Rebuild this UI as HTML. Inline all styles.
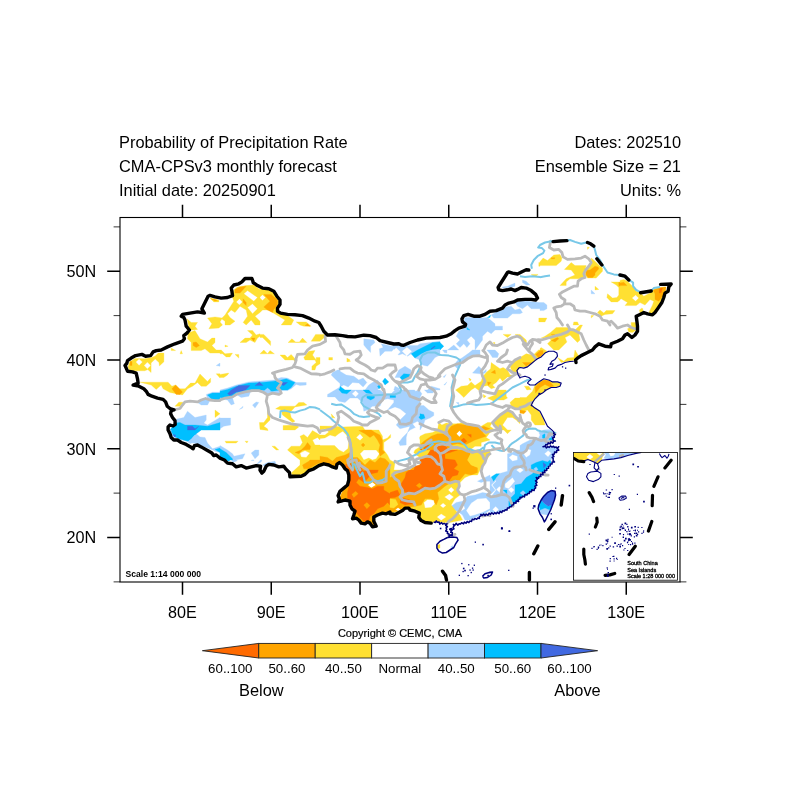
<!DOCTYPE html>
<html><head><meta charset="utf-8"><title>Probability of Precipitation Rate</title>
<style>
html,body{margin:0;padding:0;background:#fff;}
body{width:800px;height:800px;overflow:hidden;font-family:"Liberation Sans",sans-serif;}
svg{display:block}
text{font-family:"Liberation Sans",sans-serif;fill:#000}
.t{font-size:16.4px}
.ax{font-size:16.2px}
.cb{font-size:13.3px}
</style></head><body>
<svg width="800" height="800" viewBox="0 0 800 800">
<rect width="800" height="800" fill="#fff"/>
<text class="t" x="119" y="148.4">Probability of Precipitation Rate</text>
<text class="t" x="119" y="172.2">CMA-CPSv3 monthly forecast</text>
<text class="t" x="119" y="195.8">Initial date: 20250901</text>
<text class="t" x="681" y="148.4" text-anchor="end">Dates: 202510</text>
<text class="t" x="681" y="172.2" text-anchor="end">Ensemble Size = 21</text>
<text class="t" x="681" y="195.8" text-anchor="end">Units: %</text>
<defs><clipPath id="mc"><rect x="120" y="217.5" width="560" height="364.5"/></clipPath></defs>
<g clip-path="url(#mc)">
<path d="M220 363.1L216.2 365.6L220 366.2ZM332.5 372.5L331.2 375L336.2 380L340 383.4L340 386.9L343.8 385L348.1 386.9L352.5 382.5L358.8 383.1L363.1 386.9L366.9 382.5L363.1 378.1L358.8 380L353.8 376.2L346.2 375L340 371.2L340 370L337.5 370ZM251.2 390L261.2 390.6L267.5 393.8L278.8 393.8L280 390.6L287.5 390.6L291.2 388.8L296.2 384.4L300 385.6L306.2 385L306.2 382.5L296.2 382.5L287.5 378.1L281.2 377.5L273.8 380L248.8 381.9L236.2 385L227.5 388.1L220 390L220 392.2L212.5 392.2L206.2 394.4L207.5 398.8L212.5 401L220 400.6L220 398.8L227.5 400L231.2 405L234.4 403.8L232.5 398.1L236.2 394.4L241.2 397.5L248.8 396.2ZM210 400.6L206.2 398.8L201.2 400L197.5 402.5L201.2 405L207.5 405ZM255 408.1L258.8 402.5L256.2 401.9L252.5 405ZM239.4 409.4L242.5 408.1L243.1 406.2ZM220 418.1L220 417.5L207.5 425L203.8 423.1L206.2 420L206.2 415L195 417.5L187.5 411.2L183.8 417.5L176.9 419L175 422.5L175 430L170.5 430L170 431.2L172.5 436.2L178.8 438.8L190 442.5L197.5 443.8L214.5 450.7L215 451.2L220 452.5L220 458.5L223.6 460L231.7 460L232.5 462.5L236.2 461.2L237.5 460L236.2 460L236.1 459.8L242.5 458.8L245 453.8L234 456.2L232.5 453.8L227.5 450L220 445.6L220 446.2L212.5 448.8L207.5 443.1L205 437.5L200 436.9L196.2 433.8L201.2 430L220 430L220 428.8L223.8 426.2L230.6 425L230.6 418.1ZM255 450L251.2 453.1L255 458.8L258.8 455L258.8 450ZM252.2 460L251.2 460.6L253.8 460.6L254.1 460ZM260.6 460L256.2 464.4L261.2 461.9L261.9 460ZM270 463.8L276.2 464.4L275 461.2L267.5 462.5L262.5 465L265 466.2ZM366.9 348.8L370.6 352.5L370.6 346.2L375 342.5L373.8 340L363.8 338.8L363.8 345ZM447.5 350L458.8 350L453.8 345ZM396.2 347.5L400.6 351.9L398.1 354.4L398.8 355L402.5 353.8L406.2 355.6L401.9 351.2L406.9 346.9L411.9 351.2L407.1 356L407.5 356.2L411.2 353.8L415 358.1L420 360L422.5 365L427.5 366.2L431.2 362.5L435 357.5L440 355L440 341.2L420 343.8L417.5 345.6L392.5 345.6L392.9 346.4L381.2 343.8L383.1 347.5L379.4 348.8L380 356.2L385 351.2L391.9 351.2L393.9 348.8L394.2 349.5ZM444.4 352.5L446.9 353.1L446.9 350L442.5 350ZM400 377.5L405 380L411.2 375L411.2 370L405 366.2L398.8 370L395 377.5ZM443.1 376.9L444.4 377.5L446.2 374.4ZM443.8 385L445 385L446.9 381.9ZM365 390L340 390L340 387.1L327.5 394.4L327.5 396.9L335 396.9L338.8 401.2L345 402.5L350 398.1L357.5 398.1L362.5 402.5L363.8 411.2L367.5 410L372.5 406.2L380 406.2L382.5 400L387.5 398.8L393.8 400L393.8 402.5L387.5 410L395 406.9L400 408.8L406.2 413.8L400 420L396.2 425L400 428.8L410 426.2L407.5 432.5L410 430L415 427.5L415.4 427.6L412.5 423.8L417.5 421.2L420 423.8L420 425L423.8 423.8L425 420L430 418.1L433.8 415.6L433.8 412.5L428.8 410L423.8 405.6L420 405.6L420 397.5L421.9 393.8L420 391.2L420 390L415 391.2L414.7 390L398.8 390L400 388.8L395 386.2L393.8 390L395 390L391.2 393.8L385 393.8L380 390L377.5 390L381.2 385L377.5 380L372.5 382.5L368.8 385ZM358.8 393.8L355.6 396.9L351.9 393.8L355.6 390.6ZM436.2 390L440 390L440 388.8L431.2 386.2L427.5 390L424.4 390L427.5 393.1L432.5 393.1ZM422.5 426.2L420 425L420 430ZM406.2 437.5L407.5 432.5L402.5 437.5L398.8 442.5L400 445.6L406.2 445ZM450.6 546.9L452.5 548.1L453.1 545.6ZM530 285L526.2 281.2L522.5 280L522.5 282.5L526.2 285ZM511.2 287.5L515 286.2L515 283.1L507.5 286.2L502.5 286.9L502.5 288.1ZM595 293.8L591.2 290L591.2 293.8ZM540 308.8L540 310.5L543.8 310.6L546.9 308.8L546.9 305L543.8 302.5L540 302.5L527.5 301.2L520 301.2L515 302.5L517.5 306.2L522.5 308.8L527.5 305L531.2 308.8ZM511.2 306.2L506.2 306.9L502.5 310L496.2 311.9L491.2 315L493.8 318.1L507.5 318.1L512.5 313.8L520 313.8L522.5 312.5L520 308.8L515 310ZM502.5 326.2L495 326.2L495 323.8L487.5 317.5L481.2 318.1L473.8 317.5L465 317.5L463.8 321.9L466.9 325L465 327.5L458.8 331.2L456.2 336.2L460 340L456.2 343.8L460 347.5L463.8 343.8L466.9 347.5L470 343.8L466.9 340L471.2 336.2L475 340L475 350L482.5 340L482.5 336.2L487.5 331.2L491.2 333.8L495 330L502.5 330ZM497.5 357.5L498.8 353.8L495 350L486.9 350L490 353.8L492.5 357.5ZM468.8 353.1L462.5 357.5L457.5 360.6L453.8 365L457.5 368.8L462.5 362.5L467.5 358.8L473.8 356.2L480 355L480 350L475 350L472.5 350ZM480 373.8L482.5 370L478.8 366.2L472.5 373.1ZM483.8 373.8L486.2 371.9L486.2 369.4L482.5 372.5ZM458.8 402.5L456.2 402.5L458.8 405ZM530 440L522.5 443.8L520 445.6L520 450L515 450L512.5 452.5L507.5 453.8L507.5 471.2L498.8 473.8L492.5 477.5L496.2 481.2L492.5 485L496.2 490L492.5 495L490 496.9L490 495L495 490L491.2 485L495 481.2L491.2 477.5L490 476.9L490 475L477.5 481.2L481.2 482.5L485 481.2L490 481.2L490 493.8L482.5 492.5L475 495L467.5 496.2L462.5 501.2L456.2 502.5L451.2 506.2L452.5 510L457.5 511.2L462.5 515L465 520L470 520L477.5 516.2L485 513.8L490 510L490 513.8L496.2 513.1L507.5 508.8L518.2 500.7L520.2 497.7L524.1 496.3L535 488.8L536.2 481.2L536.5 480.8L536.5 478.9L539.2 477.2L548.1 465L553.1 456.6L554 453.9L555.6 452.9L557.5 450L555.6 447.5L552.6 446L547.5 447.2L544.4 446.2L547.6 444L551.9 442.6L550 440L552.1 440L553.8 435L552.5 432.5L550 429.4L543.8 430L538.8 432.5L540 435L537.5 440ZM466.2 510.6L471.2 503.1L477.5 498.8L486.2 498.1L490 502.5L490 508.8L482.5 512.5L475 515L470 516.2ZM527.5 448.8L531.2 450L530 455L526.2 457.5L522.5 452.5ZM551.2 453.1L548.1 456.9L544.4 453.8L548.1 450.6ZM512.5 454.4L517.5 456.2L517.5 460L512.5 461.2L508.8 457.5ZM523.8 470L520 473.1L516.2 470L520 467.5ZM512.5 477.5L515 481.2L508.8 488.8L505 487.5L505 483.8ZM502.5 489.4L499.4 492.5L496.2 489.4L499.4 486.2ZM514.4 490L511.2 493.1L508.1 489.4L511.2 486.9ZM495.6 506.2L498.8 509.4L495.6 512.5L492.5 509.4ZM463.8 505L465 508.8L461.2 511.2L460 507.5ZM550 510L545 508.1L540 510L538.1 508.8L540 513.8L547.5 515Z" fill="#a6d2ff" fill-rule="evenodd" stroke="#a6d2ff" stroke-width="0.3"/>
<path d="M385 378.1L382.5 381.2L385 385L388.8 381.9ZM377.5 386.2L378.8 388.8L381.2 387.5L380 384.4ZM341.9 393.1L346.9 393.8L351.2 390L345 390L340 386.2L340 388.3L338.8 389.4ZM272.5 391.2L280 390L287.5 390L291.2 387.5L295 382.5L286.2 378.8L281.2 380L273.8 381.2L261.2 382.5L248.8 383.1L236.2 386.2L227.5 389.4L220 391.2L220 393.1L212.5 393.1L207.5 395L212.5 400L220 400L220 397.5L227.5 398.8L232.5 397.5L236.2 393.8L243.8 392.5L251.2 389.4L261.2 390ZM363.1 390L366.2 393.1L372.5 393.8L368.8 390ZM390 395L390 397.5L395.6 397.5L395.6 395.6ZM374.4 398.1L374.4 395.6L366.9 395.6L366.9 398.1L370.6 400ZM175 423.1L174.9 424.2L173.3 425.5L170 430L171.9 430L171.2 431.2L173.8 436.2L178.8 438.8L188.1 441.2L192.5 437.5L196.2 433.8L201.2 430L220 430L220 422.5L207.5 426.2L195 425L185 425L180 422.5ZM230 460L232.5 460L232.5 458.8L226.2 452.5L220 448.8L220 448.1L215 449.4L220 452.5L220 458.5L223.6 460L225.4 460L228.8 461.2ZM487.5 317.5L490 317.5L490.6 315ZM466.9 329.4L470 330L466.9 327.5ZM432.5 342.5L417.5 350L411.2 353.8L415 358.1L421.2 353.8L426.2 351.2L432.5 349.4L440 348.8L440 350L443.8 346.2L440 342.5L440 341.9ZM411.2 374.4L403.8 373.8L400 377.5L402.5 380.6L407.5 380ZM420 418.8L421.2 419.4L425 418.1L423.8 414.4L420 413.8L420 416.2L418.8 416.9ZM545 433.8L542.5 435L542.5 438.1L545 438.8ZM553.8 440L553.5 439.3L552.9 438.7L553.1 438.4L552.5 436.9L548.8 438.8L549.4 440L550 440L553.8 441.9L554.7 440.5L554.2 440ZM499.4 473.8L496.2 473.8L491.2 476.9L493.8 481.2L496.2 477.5ZM511.2 497.5L508.8 501.2L508.8 507.5L512.5 505L518.2 500.7L520.2 497.7L524.1 496.3L535 488.8L536.2 481.2L536.5 480.8L536.5 478.9L538.4 477.7L540 475L545 470L551.2 462.5L550 460L547.5 461.9L542.5 460.6L536.2 462.5L531.2 465L531.2 468.8L535 470L532.5 473.8L526.2 477.5L521.2 483.8L515 485L515 493.8ZM506.9 490L503.1 490L506.9 493.8ZM538.8 505L540 510L545 508.1L550 510L551.9 505L548.1 506.2L543.8 503.1L541.2 500Z" fill="#00bfff" fill-rule="evenodd" stroke="#00bfff" stroke-width="0.3"/>
<path d="M435.2 346.5L434.8 346L431 348.8L431.5 349.2ZM255 385.6L263.1 385.6L259.4 381.9ZM287.5 382.5L282.5 382.5L280 384.4L283.8 385.6ZM231.2 390L227.5 393.8L230 395.6L236.2 391.9L245 390.6L250 385.6L238.8 385.6ZM187.5 426.2L187.5 430L195 430L198.8 426.2L195 428.8L192.5 426.2ZM173.1 434.4L175 437.5L175.6 435ZM553.1 438.9L552.9 438.7L554.1 436.8L551.2 436.2L552.5 438.8ZM543.8 468.1L546.2 465L543.1 462.5ZM554.4 500L555.6 495L555 491.2L551.2 490.6L547.5 492.5L543.8 496.2L541.2 500L543.8 503.1L548.1 506.2L551.9 505Z" fill="#4169e1" fill-rule="evenodd" stroke="#4169e1" stroke-width="0.3"/>
<path d="M264.4 390.6L267.5 393.1L270.6 390.6L267.5 388.1ZM192.5 437.5L195 440L197.5 437.5L195 435ZM190 440L188.1 441.9L190 443.8L192.5 442.5ZM535.6 471.2L538.1 469.4L536.2 466.9L533.8 468.8ZM523.1 495.6L525.6 493.1L523.1 490.6L520 493.1Z" fill="#a6d2ff" fill-rule="evenodd" stroke="#a6d2ff" stroke-width="0.3"/>
<path d="M213.8 301.9L218.8 301.9L218.8 300L210 298.1ZM208.8 328.8L218.8 328.1L222.5 325L220 321.9L221.8 319.1L225 321.2L225 325L230 325L235 321.2L230 317.5L227.5 313.8L231.2 310L235 312.5L240 306.2L246.2 310L247.5 316.2L243.1 322.5L246.2 325L251.2 320L255 325L260 325L260 321.2L255 316.2L260 312.5L262.5 310L268.8 310L272.5 312.5L285 320L281.2 325L291.2 325L293.8 320L287.5 315.6L278.1 312.5L276.9 308.8L279.4 305L279.4 301.2L276.9 297.5L275 293.8L268.8 290L262.5 289.4L260 288.1L260 289.4L253.8 285L246.2 285.6L237.5 286.9L233.8 290L232.5 297.5L233.8 301.2L225 315L222 318L215 316.9L207.5 318.1L211.9 323.8ZM260 296.9L262.5 294.8L265.6 297.5L262.5 300.6L260 298.1ZM253.8 301.2L243.8 293.8L247.5 290.6L257.5 297.5ZM239.4 305L236.2 301.9L239.4 298.8L242.5 301.9ZM252.5 313.8L247.5 307.5L252.5 303.8L257.5 308.8ZM195 326.2L197.5 322.5L191.2 322.5L186.9 318.8L189.6 330L192.5 330L197.5 329.4ZM260 336.2L260 337.5L262.5 337.5L270.6 345.6L270.6 341.2L263.8 334.4L260 334.4L260 333.8L256.2 335L252.5 330.6L247.5 330.6L252.5 335L250 338.1L245 338.1L240 342.5L246.2 342.5L250 340L255 342.5L257.5 338.1ZM222.5 353.8L226.2 356.9L230 356.9L232.5 353.1L225 353.8L221.2 350L216.2 350L211.9 345.6L215 342.5L215 338.1L211.9 338.1L207.5 341.9L200 338.8L195 330.6L188.1 333.1L187.5 338.8L191.2 342.5L191.2 350.6L201.2 350.6L205 348.8L210 353.1L220 353.1L220 353.8ZM225 346.9L228.1 346.2L225 345ZM171.2 350.6L175.6 350.6L171.2 348.1ZM260 353.8L267.5 353.8L263.8 350ZM181.2 350.6L180 353.8L182.5 353.8ZM270 350.6L267.5 353.8L274.4 353.8ZM238.8 358.1L238.8 354.4L235 354.4ZM293.8 360L295 361.9L296.9 360L295 360L295 358.8L291.2 354.4L287.5 357.5L285 355L280 355L285 360ZM163.9 361.8L163.9 353.1L158.2 353.1L155.2 356.1L151.5 357.6L144.8 358.8L135 358.4L129.8 361.8L127.9 367L129.8 370.8L144.8 370.8L147.8 369.6L151.1 372.6L151.1 362.9L155.2 359.1L159 362.5L159.4 365.9ZM135.8 362.1L139.1 358.8L142.5 362.1L139.1 365.5ZM144 365.5L147.4 362.1L150.8 365.5L147.4 368.9ZM220 377.5L223.8 377.5L227.5 375L228.8 373.1L220 374.4L220 373.8L216.2 373.8L220 378.1ZM201.2 386.2L206.2 386.2L210.6 382.2L210.6 378.1L207.5 381.5L200 374L195 383.1L190.6 383.1L185 388.8L179.4 388.8L175.6 385L171.9 386.2L168.1 382.2L140 382.2L151.2 385L156.2 389.4L161.2 385L163.1 388.8L170 392.5L182.5 395L187.5 388.8L192.5 386.2L197.5 382.5ZM180 406.2L183.1 402.2L178.8 402.2L175 406.2ZM306.9 405L303.8 402.5L298.8 402.5L295 406.2L280 406.2L275.6 408.8L281.2 410L282.5 415L292.5 422.5L295 421.2L291.2 417.5L290 412.5L295 406.9ZM215 410L215 417.5L220 413.8ZM263.8 422.5L259.4 422.5L260 429.4L268.1 430.6L267.5 428.8L263.8 426.2L270 420L270 413.8L267.5 410L267.5 417.5ZM283.1 425.6L283.1 430L295 430L298.8 426.9L296.2 425ZM245 441.2L246.9 443.1L248.1 441.2ZM226.2 443.1L236.2 443.1L238.1 441.2L225 441.2ZM276.2 450L278.8 450L275 446.2L271.9 446.2ZM296.2 321.9L300 325L303.8 326.2L311.2 326.2L306.2 321.9ZM503.1 334.4L507.5 337.5L511.2 334.4ZM325 334.4L315.6 334.4L311.2 341.2L320 341.2L323.8 338.1ZM299.4 341.9L295.6 341.9L291.9 338.8L288.1 342.5L306.9 342.5L302.5 338.1ZM495 342.5L493.1 342.5L494.4 344.4ZM311.9 366.2L311.9 370L315 370L316.2 366.2L320 363.8L320 357.5L316.2 357.5L316.2 360L312.5 355L315 350.6L308.8 351.2L303.8 357.5L305 360L315 360L316.2 362.5ZM328.8 360L332.5 360L332.5 357.5L328.8 357.5ZM349.1 360L350 360L346.9 358.1L346.9 361.9L350.6 361.2ZM470 381.2L471.2 379.4L468.8 378.1ZM475 385.6L471.2 381.9L467.5 385.6L461.2 386.2L455.6 390L460 393.8L463.8 397.5L471.2 390L475 387.5L480 391.2L483.8 386.2L487.5 385.6L491.2 388.8L495 387.5L492.5 385L496.2 382.5L500 378.1L502.5 381.2L507.5 376.9L512.5 376.9L514.8 375L510 375L507.5 370L503.1 367.5L500 368.8L491.2 362.5L490.6 368.8L486.2 372.5L482.5 376.9L481.2 381.2ZM487.5 398.1L493.8 401.2L497.5 400L503.8 400L507.5 398.1L506.2 396.2L506.2 390L497.5 390L495 395ZM483.1 394.4L483.8 398.1L486.2 396.2ZM331.9 417.5L335 418.1L331.2 413.8ZM502.5 425L507.5 417.5L512.5 417.5L516.2 420L520 423.8L520 420L516.2 417.5L512.5 412.5L507.5 410L500 415L492.5 422.5L495 426.2L500 430L503.8 430L507.5 433.8L511.2 430L507.5 430ZM418.8 447.5L415 450L413.8 452.5L416.2 455L420 457.5L420 470L393.8 470L395 462.5L390 460L387.5 455L383.8 450L383.8 442.5L390.6 437.5L390.6 434.4L387.5 438.1L382.5 440L382.5 436.2L378.8 430L365 430L362.5 426.2L342.5 426.9L335 426.2L320 426L320 430L325 428.8L328.8 431.9L325 435L320 435L312.5 430.6L307.5 437.5L303.8 434.4L300 436.2L302.5 442.5L300 446.2L291.2 446.2L287.5 450L295 456.2L300 460L300 465L291.2 473.1L292.5 475L300 475L300 474.6L305 473.8L307.4 472.4L308.9 470.9L312.3 469.6L320 465.2L320 465.5L323.8 464.1L328.6 465.3L332.4 467.2L336.2 468.4L336.5 468.2L337.2 464.5L339.4 462.9L342.3 465.2L344.8 468.9L346.2 470L346.5 470L347.2 470.8L348.4 475L348.4 476.5L348.8 477.5L348.4 478.2L348.4 480L347.2 484.8L344.4 487.2L337.8 502L338.2 502.2L341.3 501.5L345 500.3L349.7 501.5L349.7 505.1L351.6 508.9L354.6 511.4L352.2 518.9L352.5 519L356.2 518.4L358.5 520.2L361.1 523.4L365 524L367.5 522.2L369.8 523.4L372.2 526.9L375.7 524.5L374.1 521.2L374.1 517.1L377.6 515.3L382.5 513.4L386.3 514L389.7 512.4L389.7 513.8L390 514.1L390 513.8L404 509.6L405.1 508.4L407.7 508.4L408.8 508.1L418.8 512.5L419 513.3L419.9 519.4L420.4 520.1L433.8 522.5L434.4 522.5L436.2 521.6L438.1 522.5L450 522.5L462.5 520L460 515L455 510L451.2 505L455 498.8L460 495L457.5 490L460 482.5L465 477.5L471.2 475L477.5 475L482.5 465L490 455L490 450L470 450L475 446.2L481.2 446.2L481.2 442.5L490 440L486.2 437.5L490 432.5L495 430L490 426.2L492.5 422.5L487.5 422.5L481.2 426.2L472.5 425L470 423.8L462.5 422.5L457.5 423.8L451.2 423.8L446.2 423.1L441.9 425L438.8 422.5L437.5 430L432.5 432.5L425 433.8L420 436.2L420 437.5L419.4 437.5L420 440L420 447.5ZM420 450L420.6 450L420 452.5ZM459.4 430.6L462.5 433.8L459.4 436.9L456.2 433.8ZM324.8 438L330 435L335.2 436.5L339 433.5L342.8 431.2L346.5 435L348.8 442.5L348 448.5L343.5 452.2L339 450L334.5 445.5L320 445.5L320 445L315 445L312.5 440L317.5 437.5L320 440L320 438.5ZM306.2 457.5L301.2 456.9L300 453.1L305 450.6L310 453.1ZM360 440.6L356.2 437.5L360 433.8L363.1 437.5ZM368.8 458.1L363.8 460L360 453.8L363.8 450L376.2 450L379.4 453.8L376.2 458.8L372.5 460ZM423.8 502.5L427.5 499.4L433.8 500L435 503.8L431.2 507.5L425 508.1ZM443.1 503.1L446.2 505.6L443.1 508.1L440 505.6ZM398.1 507.5L401.2 509.4L398.1 511.2L395 509.4ZM446.2 516.9L441.2 520.6L436.9 516.9L441.2 513.8ZM475 455L478.1 458.1L475 461.2L471.9 458.1ZM451.2 486.9L454.4 490L451.2 493.1L448.1 490ZM453.8 496.9L449.4 500.6L444.4 496.9L449.4 493.8ZM371.2 488.1L367.5 485L372.5 481.9L376.2 485ZM440 548.1L440 544.4L436.9 545L437.5 548.8ZM589.4 247.5L587.5 246.9L587.5 249.4ZM540 261.8L540 262.5L538.8 262.5L538.8 266.2L540 266.2L540 265.6L556.2 265.6L561.2 261.2L561.9 258.1L560 254.4L553.8 255L547.5 260.6L543.1 258.1ZM595 261.2L591.2 258.1L591.2 262.5L585.6 270L585 275L587.5 278.1L596.2 278.1L602.5 271.2L602.5 268.1L600 266.2ZM585 277.5L583.8 273.8L586.2 265.6L575 265.6L571.2 262.5L564.4 269.4L571.2 270L575 275L566.2 278.8L560 285.6L566.2 285.6L566.2 281.9L570 278.8L581.2 278.8ZM538.1 274.4L531.2 274.4L535 276.9ZM598.8 289.4L595 286.2L595 290ZM606.9 297.5L611.2 301.9L617.5 301.9L620 300L620 299.4L621.2 298.8L627.5 302.5L625 305.6L636.2 305.6L637.9 304.2L637.5 303.8L638.1 304.1L640 302.5L645 305L650 299.4L653.8 301.2L652.5 305L648.8 312.5L652.5 315L657.5 308.8L662.5 300L666.2 291.2L665 286.9L655 288.8L650 293.1L643.8 296.2L640 292.5L636.2 291.2L632.5 286.2L627.5 281.2L623.8 279.4L620 280.4L620 281.9L611.2 281.9L616.2 285L618.8 287.5L618.8 295L616.9 297.5L612.5 298.1L607.5 293.8ZM635.6 295L638.8 298.1L635.6 301.2L631.9 298.1ZM641.6 308.2L639.4 310L640 313.1L643.1 311.2L642.7 308.5ZM597.5 312.5L601.2 316.2L605 314.4L612.5 313.8L615 310.6L606.2 310.6L603.8 313.1L600 310ZM593.8 315.6L591.2 315.6L591.2 318.1ZM538.8 321.9L545 321.9L546.9 318.1L538.8 318.1ZM577.5 321.9L573.8 321.9L573.1 325L578.8 325ZM627.5 328.8L628.8 331.9L632.5 332.5L636.2 330L635.6 322.5L631.2 322.5L631.2 326.9ZM547.5 337.5L551.2 340L547.5 343.8L553.8 350L558.8 350L566.9 341.9L565 337.5L570 335L577.5 342.5L580 340L578.8 333.8L580 330L582.5 325L580 325L575 330L570 330L567.5 327.5L556.2 327.5L550.6 332.5L545 336.2L541.2 338.1ZM523.8 342.5L526.9 345L526.2 340L520 334.4L515 334.4L521.2 337.5ZM533.8 354.4L536.2 358.8L541.2 356.9L546.9 351.2L541.2 347.5L540 348.6L540 350L538.5 350ZM563.8 361.2L557.5 357.5L561.2 362.5L572.5 360.6L575.6 359.4L578.8 356.2L575 350L573.8 357.5L567.5 358.1ZM510 366.2L512.5 372.5L516.2 373.8L518 373.2L517.2 370.7L518.9 368.4L520 367.8L520 367.5L527.5 366.9L535.2 360.8L536.2 358.8L532.5 355L526.2 353.8L520 357.5L512.5 363.1ZM514.8 375L515 375L516.2 373.8ZM524.4 386.2L526.9 390L531.2 389.4L528.8 386.2ZM552.5 381.9L543.8 379.4L535 385L532.5 391.2L526.2 397.5L520 397.5L520 398.1L515 398.1L510 402.5L511.2 406.2L516.2 408.8L520 408.8L520 412.5L527.5 410L531.2 415L531.2 420L535 425L545 425L543.8 420L538.8 410.2L531.2 405.6L535 398.8L536.7 397.5L538.9 395.2L541.2 394.1L546.4 390.3L551.2 387.5L560 386.2L560 383.1Z" fill="#ffe032" fill-rule="evenodd" stroke="#ffe032" stroke-width="0.3"/>
<path d="M240 293.1L246.2 286.2L240 286.9L235 289.4L235 293.1ZM217.5 300.2L210.6 298.5L215 301ZM243.1 298.8L243.1 302.5L246.2 305.6L246.2 302.5ZM271.2 294.4L263.8 294.4L270 301.2L263.8 306.9L267.5 310L272.5 312.5L273.8 309.4L277.5 305L277.5 300ZM307.5 323.8L305 325.6L310 326.2ZM255 338.1L251.2 338.1L253.8 341.2ZM199.4 345.6L196.2 341.9L193.1 342.5L193.1 345.6L196.2 347.5ZM130.1 361.4L130.1 365.5L132 365.5L132 361.4ZM182.5 391.9L175.6 385L171.9 388.8L176.2 394.4L180 394.4ZM385 452.5L382.5 450L382.5 440L380 435L375 432.5L371.2 430L363.8 430L358.8 430.6L365 433.8L370 437.5L373.8 435L377.5 440L380 445L378.8 450L380 456.2ZM361.2 445L363.1 446.9L365 445L363.1 443.1ZM295 452.5L298.8 453.8L302.5 450L310 449.4L310.6 446.2L307.5 442.5L305 446.2L301.2 450ZM375 462.5L370 460L365 465L357.5 457.5L352.5 457.5L350 452.5L345 455L336.2 457.5L332.5 461.2L327.5 457.5L320 456.2L320 460L310 460L308.8 461.2L302.5 465L303.8 468.8L308.8 468.8L315 465L320 462.5L320 465.5L323.8 464.1L328.6 465.3L332.4 467.1L336.2 468.4L336.5 468.2L337.2 464.5L339.4 462.9L342.3 465.2L344.8 468.9L346.2 470L346.5 470L347.2 470.8L348.4 475L348.4 476.5L348.8 477.5L348.4 478.2L348.4 480L347.2 484.8L344.4 487.2L337.9 502L338.2 502.2L341.3 501.5L345 500.3L349.7 501.5L349.7 505.1L351.6 508.9L354.6 511.4L352.2 518.7L352.3 519L356.2 518.4L358.5 520.2L361.2 523.4L365 524L367.5 522.2L369.8 523.4L372.2 526.9L375.7 524.5L374.1 521.2L374.1 517.1L377.6 515.3L382.5 513.4L386.3 514L389.7 512.4L389.7 513.8L390 514.1L390 512.5L397.7 511L395 509.4L398.1 507.5L401.2 509.4L399.1 510.7L402.5 510L404.2 509.3L405.1 508.4L406.4 508.4L408.8 507.5L421.2 505L425 498.8L431.2 498.8L432.1 499.8L433.8 500L434.8 503.2L436.2 505L438.8 498.8L437.5 492.5L445 486.2L450 483.1L460 480L465 473.8L471.2 475L477.5 472.5L477.5 467.5L471.2 465L467.5 460L470 455L470 450L448.8 450L451.2 445L457.5 443.8L465 445L475 440L486.2 436.2L482.5 432.5L486.2 430L490 428.8L483.8 426.2L480 427.5L457.5 423.8L451.2 426.2L447.5 431.2L443.8 433.8L437.5 433.8L431.2 436.2L423.8 441.2L420 445L423.8 450L431.6 450L426.2 456.2L420 458L420 465L412.5 467.5L410 470L406.2 470L397.5 473.8L390 477.5L390 470L388.8 462.5L385 458.8L380 457.5ZM372.5 481.9L376.2 485L371.2 488.1L367.5 485ZM456.2 433.8L459.4 430.6L462.5 433.8L459.4 436.9ZM555 257.8L551.2 257.8L551.2 258.8L554.4 258.8ZM598.1 266.9L595 266.2L590 270L585.6 270.6L586.2 275L588.1 277.5L592.5 277.5L595 275L595 273.1L598.8 268.8ZM620 282.5L618.8 282.5L618.8 285.6L620 286.2L620 285.6L626.9 285.6L623.8 282.2L620 282.9ZM653.1 290L655 293.8L655 299.4L658.8 301.2L662.5 296.2L665 291.2L666.2 286.9L660 287.5ZM553.8 336.2L555 334.4L551.2 334.4ZM557.5 337.5L551.2 340.6L555 341.9L558.8 338.8ZM543.1 353.8L543.1 350.6L540 350.6L535.6 354.4L538.8 358.1ZM526.2 366.2L531.2 362.5L522.5 362.5ZM495 370L491.2 372.5L495.6 373.8ZM491.2 382.5L487.5 381.9L488.1 385.6ZM548.8 380.6L543.8 380L538.8 383.1L535 387.5L535.6 393.1L540 387.5L545 384.4L550 386.9L553.8 386.2ZM520 410L520 413.1L523.8 413.8L526.2 411.2Z" fill="#ffaa00" fill-rule="evenodd" stroke="#ffaa00" stroke-width="0.3"/>
<path d="M420 445L420 450L422.5 450ZM350 475L350 481.2L347.5 492.5L347.5 497.5L349.5 501.4L349.7 501.5L352.5 508.8L356.2 512.5L360 517.5L363.8 521.2L368.8 521.2L370 516.2L373.8 513.8L377.5 508.8L383.8 506.2L387.5 502.5L390 505L390 498.1L395 497.5L400 495L397.5 490L390 492.5L390 493.8L383.8 490L383.8 486.2L377.5 486.2L372.5 488.8L367.5 487.5L360 486.2L356.2 482.5L358.8 478.8L363.8 482.5L367.5 478.8L371.2 473.8L377.5 472.5L378.3 470L367.5 470L363.8 471.2L362.5 470L360 465L356.2 462.5L357.5 470L355 470L350 462.5L345 465L345 469.1L346.2 470L349 470ZM409.8 470L406.2 472.5L405 477.5L401.2 483.8L402.5 490L407.5 493.8L415 493.8L425 488.8L432.5 488.8L440 486.2L445 482.5L448.8 481.2L452.5 476.2L457.5 475L458.8 471.2L453.8 468.8L457.5 465L455 460L445 458.8L445 453.8L450 452.5L457.5 450L447.5 450L446.2 445L436.2 446.2L436.2 450L430.5 450L426.2 457.5L420 459.6L420 465L415 466.2L413.8 470ZM400 502.5L405 505L412.5 503.8L410 500L401.2 497.5ZM662.5 288.1L659.4 288.8L659.4 293.1L661.2 292.5ZM471.2 437.5L471.2 434.4L467.5 434.4ZM463.8 438.1L461.2 440L463.8 443.8L466.9 441.2ZM430 446.2L426.2 443.1L423.8 448.8L427.5 450Z" fill="#ff6e00" fill-rule="evenodd" stroke="#ff6e00" stroke-width="0.3"/>
<path d="M419.4 483.1L416.2 485.6L419.4 488.1L421.9 485.6ZM351.9 494.4L353.8 497.5L358.1 493.8L355.6 491.2ZM363.8 505L366.9 508.8L370 505.6L366.9 502.5Z" fill="#ffaa00" fill-rule="evenodd" stroke="#ffaa00" stroke-width="0.3"/>
<path d="M473.8 450L475 451.2L480 450ZM482.5 465L483.8 460L482.5 455L475 452.5L470 455L467.5 460L471.2 465L477.5 467.5ZM390 498.8L390 507.5L393.8 508.1L398.1 504.4L395.6 499.4Z" fill="#ffe032" fill-rule="evenodd" stroke="#ffe032" stroke-width="0.3"/>
<path d="M440 355L435 352.5L427.5 352.5L422.5 355L420 360L421.2 363.8L420 367.5L417.5 372.5L415 376.2L412.5 381.2L407.5 382.5L401.2 382.5L398.8 385L401.2 390M520 276.2L525 276.9L532.5 276.2L540 276.9M539.8 277.3L540 277.2L545 276.2L550 275.4M520 383.8L523.8 381.9L527.5 380L530.6 379.4M280 418.1L280.6 411.2L285 410.6L290 411.9L295 412.5L300 410.6L305 409.4L310 406.9L315 407.5L320 409.4M401.1 389.8L401.2 390L400 392.5L395 394.4L387.5 394.4L380 395L372.5 395.6L366.2 395L362.5 397.5L361.2 402.5L363.8 406.2L368.8 408.8L373.8 411.2L378.8 413.8L381.2 416.9M331.2 403.8L336.2 405L341.2 404.4L346.2 407.5L350 410L353.8 413.8L358.8 416.2L363.8 416.9L370 416.2M320 410L325 413.8L330 417.5L333.8 421.2L338.8 425L343.8 428.8L347.5 433.8L350 440L351.2 447.5L351.9 455L352.5 462.5L353.1 470M393.8 462.5L400 460.6L407.5 458.8L412.5 456.2L417.5 453.8L420 451.2M439.8 354.8L441.2 355L448.8 355.6L456.2 357.5L460 360L460 365L457.2 371.2L453.8 378.8L451.6 387.5L452.1 395L450.9 401.2L450 406.9M451.2 407.5L457.5 406.2L463.8 404.4L470 403.8L476.2 405L483.8 404.4L491.2 403.8L496.2 400L501.2 396.2L506.2 392.5L512.5 387.5L520 383.8M420 448.8L425 445L431.2 442.5L438.8 441.2L446.2 442.5L452.5 441.9L460 441.2L465 445L468.8 450M483.8 450L485 445L488.8 442.5L495 442.5L500 443.8M354.2 463.5L355 465L357.5 471.2L360 476.2L362.5 472.5L363.8 477.5L365 482.5L370 482.5L373.8 480L377.5 481.2L382.5 480L386.2 477.5L386.2 471.2L390 467.5M420 452L425 450L430 446.2L433.5 443.6M468.7 448.7L468.8 448.8L475 451.2L480 450L483.6 447.3M491.4 445.1L495 448.8L500 450.6L500.2 450.6M549.8 432.4L551.2 432.5L556.2 433.1M500 450.6L502.5 450.9L505 450.3L508.1 448.1L510 445.3L512.5 443.1L515.6 441.2L518.1 439.4L520.6 437.5L523.1 435.6L524.1 434.1L525 431.9L526.2 430L528.8 428.8L532.5 428.4L535.6 428.8L537.5 430.3L540.6 431.2L543.8 431.6L547.5 432.2L550 432.5" fill="none" stroke="#78c8e8" stroke-width="2" stroke-linejoin="round"/>
<path d="M174 409.8L180 408.5L182.5 405L185 401.9L190 401.2L197.5 401.9L201.2 400L205.6 398.5L210 400L215 400.6L220 400.6M325 336.2L325.6 341.2L320 344.4L312.5 346.2L307.5 350L305 353.8L297.5 354.4L295.6 360M336.2 336.2L340 342.5L340.6 346.2L343.8 350L345 353.8L350 354.4M349.8 354.3L350 354.4L353.8 351.9L360 351.2L361.2 355L358.8 358.1L356.2 360L360 362.5L365 365L368.8 367.5L371.2 370L375 371.2L377.5 368.1L382.5 368.1L387.5 365L395 365L396.2 370L392.5 372.5L390 375L392.5 378.8L395 381.2L400 382.5L405 380L410 377.5L412.5 372.5L413.8 368.8L417.5 365.6L421.2 367.5L420 372.5L416.2 376.2L420 378.8L425 380L430 380L435 379.4L440 376.2M340 368.8L345 368.1L350 368.1L353.8 371.2L357.5 373.1L363.8 373.8L368.8 377.5L373.8 380L377.5 382.5L381.2 385L383.1 390M395 381.2L400 385L403.8 387.5L405 390M425 380L426.2 383.8L421.2 385L418.8 390M483.8 350L486.2 345L490 341.9L492.5 345L497.5 345.6L502.5 343.1L507.5 340L512.5 337.5L517.5 336.2L521.2 338.1L523.8 342.5L527.5 345L530 341.2L532.5 339.4L536.2 340L540 342.5M550.6 241.2L549.4 247.5L553.8 250L558.8 249.4L561.9 252.5L563.1 256.9L567.5 259.4L575 258.8L581.2 258.1L585 256.2L588.8 258.8L591.2 262.5L588.8 266.2L585.6 270L583.8 273.8L585 277.5L581.2 278.8L578.1 281.2L577.5 286.2L573.8 286.2L568.8 288.8L562.5 291.9L559.4 294.4L561.2 297.5L565 300L564.4 303.8L561.2 306.2L556.2 306.9L553.8 308.1L556.2 312.5L556.9 317.5L560 321.2L562.5 325M564.4 303.8L570 303.8L573.8 306.2L575 310L580 311.2L585 311.2L590 312.5L595 313.8L600 316.2L602.5 320L607.5 321.2L610 325M608.3 322.7L611.2 321.2L615 325L617.5 328.1L622.5 326.2L627.5 325L631.2 327.5L635.6 328.8M588.8 350L586.2 345L583.8 340L581.2 333.8L577.5 331.9L573.8 330L570 329.4L567.5 325M570 329.4L567.5 331.9L561.2 334.4L556.2 335.6L550 337.5L545 338.8L541.2 340L538.1 339.6M531.9 340L531.9 340L532.5 343.8L530 347.5L528.8 351.2L532.5 354.4L535.6 358.8M523.2 344.1L523.8 345L528.8 351.2M520 407.5L525 406.2L528.8 403.8L531.9 402.5M520 415L521.2 420L521.5 420.2M220 400L225 398.1L232.5 396.9L237.5 393.8L245 391.9L252.5 390.6L258.8 390.6L263.8 392.5L267.5 395L272.5 393.1L278.8 394.4L281.2 393.1L280 390L277.5 388.1L280 385L281.2 382.5L277.5 380.6L275 377.5L274.4 374.4L272.5 373.1L278.8 371.2L286.2 369.4L292.5 367.5L295 363.8L296.2 360M267.5 395L266.2 401.2L268.1 407.5L268.8 413.8L272.5 417.5L278.8 420L285 421.9L291.2 423.8L298.8 425L307.5 426.2L312.5 425.6L317.5 428.1L320 432.5M295 366.9L300 368.1L306.2 371.2L311.2 373.8L316.2 374L320 374.4M320 375L325 373.8L330 371.9L333.8 370M383.9 389.5L385 395L382.5 400L378.8 403.8L376.2 407.5L378.8 410L375 411.2L370 410L367.5 412.5L370 415L375 416.9L378.8 418.1L375 420L370 422.5L367.5 425L362.5 425L358.8 423.1L353.8 421.2L350 417.5L345 413.8L341.2 411.2L337.5 413.1L338.8 417.5L337.5 422.5L335 426.2L331.2 428.8L326.2 430L320 431.2M405.4 389.1L407.5 391.2L410 396.2L415 398.1L420 400M378.8 410L383.8 412.5L387.5 411.2L390 413.8L395 416.2L398.8 420L400 423.8L406.2 424.4L411.2 422.5L412.5 417.5L416.2 413.8L416.9 407.5L420 403.8M407.5 452.5L410 447.5L413.8 445L418.8 445L420 445.6M407.5 452.5L411.2 456.2L413.8 460L417.5 462.5L420 462.5M395 461.2L398.8 463.8L402.5 465L407.5 466.2M348.1 437.5L350 442.5L351.2 450L350.6 457.5L347.5 460L348.8 465L352.5 470M356.2 460L357.5 465L360 470M420.7 370.7L423.8 373.8L428.8 376.9L433.2 378M438.4 375.9L440 373.8L445 368.8L451.2 366.2L457.5 363.8L462.5 362.5L467.5 358.8L472.5 356.2L478.8 355.6L485 357.5L487.5 356.2L485 352.5L482.9 350.4M487.5 356.2L487.5 361.2L485 366.2L481.2 371.2L482.5 376.2L485 381.2L482.5 386.2L480 391.2L481.2 396.2L478.8 400L473.8 401.2L467.5 403.1M452.5 375L455 380L453.8 385L452.5 390L453.8 396.2L452.5 402.5L451.2 407.5L453.8 412.5L457.5 417.5L461.2 421.2L466.2 423.8L472.5 425L478.8 426.2L482.5 430L486.2 432.5L490 431.2L495 430L500 430L500.2 431.2M426.2 383.6L427.5 386.2L433.8 390L436.2 393.8L433.8 398.8L436.2 402.5L431.2 402.5L426.2 400L422.5 397.5L420 400M420 423.8L425 426.2L431.2 428.8L437.5 430L443.8 432.5L447.5 435L450 437.5L450 442.5L446.2 445L442.5 443.8L437.5 445L435 447.5L435 450M438.8 422.5L443.8 420L448.8 421.2L451.2 423.8L447.5 426.2L446.2 431.2L447.5 435M497.5 361.2L501.2 357.5L506.2 353.8L507.5 350M497.5 361.2L502.5 362.5L507.5 361.2L512.5 362.5L515 360L520 357.5M507.5 368.8L510 365L512.5 362.5M507.5 368.8L512.5 372.5L517.5 373.8L520 375M482.5 391.2L487.5 392.5L495 393.8L496.2 391.2L498.8 386.2L502.5 383.8L507.5 380L512.5 376.2L516.2 373.8M491.2 403.8L497.5 406.2L502.5 407.5L506.2 405.6L510 406.2L507.5 410L503.8 412.5L500 415L496.2 418.8L492.5 422.5L495 426.2L500 430M510 406.2L515 408.8L520 408.8M507.5 410L512.5 412.5L516.2 417.5L520 420M348.1 462.8L351.2 461.2L355 460L356.3 460.4M359.3 463L360 465L363.8 467.5L367.5 470L370 475L373.8 480L377.5 483.1L382.5 482.5L386.2 481.2L386.2 476.2L386.2 471.2L388.8 467.5L390 465M392.5 475L395 472.5L401.2 471.2L406.2 469.4L409.8 467.6M407.2 468.9L411.2 466.9L415 465L413.8 461.2L414 461.1M414.7 460.6L417.5 458.8L422.5 457.5L426.2 456.2L431.2 456.9L435 460L437.5 463.8L441.2 465L442.5 470L440 473.8L443.8 476.2L445 481.2L450 483.1L455 481.2L458.8 481.9L459.4 486.2L457.5 490L460 493.8L463.8 495L467.5 493.8L471.2 491.9L476.2 490.6L481.2 488.8L485 486.2L485 481.2L482.5 476.2L481.2 471.2L482.5 466.2L485 462.5L486.2 458.8L487.5 455L490 453.8M445 481.2L440 485L435 488.1L430 488.8L425 488.1L420 491.2L415 493.8L408.8 493.1L403.8 495L400 496.9L402.5 500L407.5 501.2L413.8 501.9L415 505M392.5 475L395 478.8L398.8 481.2L400 486.2L402.5 490L402.5 493.8L400 496.9M412.8 458.4L412.5 458.8L408.8 460L410 463.8L406.3 465M419.9 446.2L420 446.2L425 445L427.5 442.5L431.2 440M435.9 448.8L436.2 450L440 453.8L441.2 460L441.2 465M447.7 444.7L450 445L452.5 447.5L447.5 450L443.8 452.5L440 453.8M452.5 447.5L457.5 447.5L462.5 448.8L467.5 451.2L472.5 452.5L477.5 451.2L480 452.5L482.5 455L483.8 458.8L486.2 458.8M463.8 495L465 500L462.5 505L460 510L456.2 515L452.5 518.8L448.8 521.2L446.2 525M482.5 516.2L487.5 515L490 515.6M480 452.5L485 451.2L491.2 450L496.2 448.8L500.2 448.4M529.8 469.8L530 470L535 471.9L540 473.1L545 475L548.1 475.2M512.2 469.8L511.2 471.2L510 475L506.2 477.5L503.8 481.2L502.5 486.2L501.2 491.2L501.9 494.4L506.2 495L509.4 497.5L511.2 502.5L513.1 506.2M483.8 487.2L483.8 487.5L487.5 490L490 492.5L487.5 495L491.2 496.9L496.2 496.2L501.9 494.4M549.8 441.9L552.5 441.2M448.8 535.6L455 534.4M549.8 434.7L552.5 433.8L555 434.4M497.9 433.1L495 435L498.2 438.2M518.8 420.6L521.6 421.2L522.8 423.4L525 424.7L526.2 426.6L524.4 428.4L523.1 430.6L523.8 433.1L526.2 434.7L526.9 436.9L529.4 437.8L533.1 438.1L536.2 438.4L538.8 439.7L541.2 440.6L543.8 440L546.2 438.8L548.1 436.9L548.8 434.4L550 433.4M526.2 424.7L526.9 423.1L528.4 422.6L530 423.1L530.6 424.7L530 426.2L528.4 426.8L526.9 426.2L526.2 424.7M535 438.8L533.8 440.6L532.5 443.1L530.6 444.7L528.1 445.6L527.5 448.1L526.2 450.6L523.8 452.5L521.2 453.4L518.1 452.5L515 450.6L512.5 449.4L510 449.7L508.8 448.4M508.1 448.8L508.8 451.2L510.9 451.6M521.2 453.4L520.6 455.6L521.9 458.1L523.8 460.6L524.4 463.1L523.8 465.6L520.6 466.6L516.9 466.9L513.8 467.8L511.9 470M523.8 465.6L525.6 467.5L526.2 470M500 426.2L500.9 429.4L500.6 432.5M500 438.8L501.9 440L501.2 442.5L501.9 445L503.1 448.1L503.8 450.6M543.8 440L546.2 441.6L550 441.9" fill="none" stroke="#bababa" stroke-width="2.8" stroke-linejoin="round" stroke-linecap="round"/>
<path d="M531.9 268.8L531.2 265L533.8 260L537.5 256.2L543.1 253.1L544.4 250.6L541.9 248.1L538.1 247.5L540 245L545 242.5L551.2 241.2L560 241L566.9 240.6L570 240L575 241.9L581.2 243.8L586.2 242.5L590.6 243.8L593.8 246.2L595 250L596.2 255L600 260L602.5 265L605 268.8L607.5 272.5L613.8 274.4L618.8 275L625 276.9L630 280.6L633.1 282.5L633.1 286.2L636.2 290L640 291.9L645 291.9L651.2 290.6L653.8 288.1L660 286.9" fill="none" stroke="#78c8e8" stroke-width="2" stroke-linejoin="round"/>
<path d="M573.8 361.2L570 361.5L565 362.5L561.2 364.4L557.5 365.6L555 368.1L551.2 369.4L548.1 370L548.8 367.5L552.5 366.2L553.1 363.8L550 364.4L551.9 361.2L555 359.4L557.5 356.2L556.9 353.1L553.8 351.2L548.8 351.2L545 353.1L541.2 356.9L537.5 358.8L535 360.6L531.2 363.8L527.5 366.9L523.8 368.1L520 367.5L518.8 368.1L516.9 370.6L518.1 374.4L520 378.1L520 377.5L525 376.2L528.8 377.5L531.2 379.4L528.8 381.2L527.5 383.1L530 385L535 385L538.8 381.9L543.8 378.8L548.8 380L552.5 381.9L557.5 381.9L561.2 383.1L560 386.2L556.2 387.5L551.2 387.5L546.2 390L542.5 393.1L538.8 395L535 398.8L532.5 402.5L531.2 405.6L531.2 405L535 408.1L540 411.2L542.5 416.2L545 421.2L547.5 426.2L551.2 429.4L553.8 431.9" fill="none" stroke="#00007d" stroke-width="1.15" stroke-linejoin="round"/>
<path d="M554.2 431.7L553.6 433.4L555.3 434.3L553.9 435.3L554.4 437.3L552.7 437.9L553.1 439L553.2 440.8L555.4 441.1L553.7 441.2L552.8 443.2L550.9 441.9L550.1 443.9L548.2 442.8L547.6 444.7L545.8 444.4L545.3 446.2L543 446.7L545.4 446.1L546.3 448L547.8 446.6L549.3 447.4L550.4 445.8L552.1 447.1L553.5 446.2L554.4 447.5L556.2 447L557.3 448.5L558.7 446.7L557.4 448.3L558.8 450.2L556.7 450.6L556.6 452.5L554.6 452L554.4 454L552.4 454.5L553.9 456.5L552.2 457.5L553.3 458.7L553 460.3L554.5 461.9L552.1 462L552.1 464L550.2 464.1L550.2 465.9L548.4 466.4L548.6 468.2L546.7 468.5L546.8 470.5L544.5 470.2L544.9 472.6L542.5 472.2L543 474.7L540.5 474.2L540.9 476.6L539 476.5L538.6 478.4L536.2 477.5L537.3 479.5L535.5 480.9L537.1 482.3L535.8 483.6L536.9 485.3L534.9 486.2L535.7 487.9L534.5 488.8L534.1 490.6L531.8 489.8L531.5 491.8L529.6 491.6L529.3 493.6L527.6 493.6L526.9 495.1L524.9 494.6L524.5 496.9L522.7 496.2L521.8 497.7L520 497.2L520 499L518.1 499.4L518.6 501.5L516.1 500.9L516 503.2L513.8 502.6L513.7 504.8L512 505L511.6 506.7L509.8 506.7L509.1 508.1L507.4 508.1L507 510L505.2 509.8L504.3 511.1L502.5 510.7L501.8 512.6L500.1 511.3L499.1 513.6L497.4 512.3L496.2 513.8L494.7 512.6L493.4 514.2L491.8 512.8L490.6 514.4L489 513.2L488 515.3L486.2 514L485.1 515.6L483.6 514.1L482.2 515.4L480.8 514.5L481.1 515.7L479.3 516.9L479.4 518.5L477.7 518L476.7 519.3L474.9 518.4L473.9 519.8L472.2 519.3L471.6 521.4L469.8 521L468.9 522.6L467.2 521.5L466 523.2L464.4 522.1L463.5 523.9L461.6 522.7L460.5 524.1L459.1 523.8L457.8 525.1L456.1 523.4L455 525.2L453.3 524.3L454.1 525.8L453.1 527.5L454 528.9L452.4 529.7L451.7 530.6L451.6 528.6L450.1 528.7L449.7 529.5L451.4 530.7L450.7 532.3L452.4 532.6L452.1 534.5L452.3 535.2L450.7 534.9L449.1 536L449 534L447.3 533.5L447.6 531.8L445.7 531L446.7 529.4L446.1 527.9L447.4 526.6L445.7 525.4L447 523.7L445.8 524.3L444.1 523.3L442.7 524.1L441.6 522.6L439.7 524.1L439.1 521.9L437.3 522.3L436.3 520.9L435.3 522.5L433.6 522.1M551.2 490.6L555 491.2L555.6 495L554.4 500L552.5 505L550.6 510L548.1 515L545.6 520L544.4 521.9L542.5 517.5L540 513.8L538.1 508.8L538.8 505L541.2 500L543.8 496.2L547.5 492.5L551.2 490.6M447.5 537.5L452.5 536.9L456.9 537.5L458.1 540L455.6 543.8L453.8 547.5L450 550L446.2 552.5L442.5 553.1L438.8 551.2L436.9 548.1L436.9 544.4L440 541.2L443.8 539.4L447.5 537.5M482.5 576.2L485 573.8L490 572.2L492.5 571.9L491.2 575L487.5 577.5L483.8 578.1L482.5 576.2" fill="none" stroke="#00007d" stroke-width="1.5" stroke-linejoin="round"/>
<rect x="544.4" y="374.4" width="1.3" height="1.3" fill="#00007d"/><rect x="565" y="367.5" width="1.3" height="1.3" fill="#00007d"/><rect x="561.9" y="366.2" width="1.3" height="1.3" fill="#00007d"/><rect x="538.4" y="392.8" width="2" height="2" fill="#00007d"/><rect x="544.4" y="389.4" width="1.3" height="1.3" fill="#00007d"/><rect x="533.2" y="505.1" width="2.3" height="2.3" fill="#00007d"/><rect x="532.5" y="507.5" width="1.3" height="1.3" fill="#00007d"/><rect x="501.1" y="527.3" width="1.6" height="1.6" fill="#00007d"/><rect x="508.6" y="530.4" width="1.6" height="1.6" fill="#00007d"/><rect x="568.6" y="484.8" width="1.6" height="1.6" fill="#00007d"/><rect x="555" y="487.5" width="1.3" height="1.3" fill="#00007d"/><rect x="550.6" y="513.1" width="1.3" height="1.3" fill="#00007d"/><rect x="550.4" y="518.6" width="1.6" height="1.6" fill="#00007d"/><rect x="439.8" y="527.7" width="1.6" height="1.6" fill="#00007d"/><rect x="500.9" y="527.5" width="2" height="2" fill="#00007d"/><rect x="508.6" y="530.4" width="1.6" height="1.6" fill="#00007d"/><rect x="474.7" y="541.5" width="1.3" height="1.3" fill="#00007d"/><rect x="482.3" y="543.8" width="1.6" height="1.6" fill="#00007d"/><rect x="508.1" y="569.7" width="1.3" height="1.3" fill="#00007d"/><rect x="461.2" y="562.9" width="1.3" height="1.3" fill="#00007d"/><rect x="468.1" y="564.1" width="1.3" height="1.3" fill="#00007d"/><rect x="473.7" y="564.6" width="1.3" height="1.3" fill="#00007d"/><rect x="462.9" y="567.7" width="1.6" height="1.6" fill="#00007d"/><rect x="464.2" y="569.8" width="1.6" height="1.6" fill="#00007d"/><rect x="462.5" y="570.9" width="1.3" height="1.3" fill="#00007d"/><rect x="469.4" y="569.4" width="1.3" height="1.3" fill="#00007d"/><rect x="471.9" y="567.5" width="1.3" height="1.3" fill="#00007d"/><rect x="472.5" y="569.4" width="1.3" height="1.3" fill="#00007d"/><rect x="470.6" y="571.9" width="1.3" height="1.3" fill="#00007d"/><rect x="467.5" y="575" width="1.3" height="1.3" fill="#00007d"/><rect x="458.7" y="574.7" width="1.3" height="1.3" fill="#00007d"/><rect x="489.4" y="571.9" width="1.3" height="1.3" fill="#00007d"/><rect x="487.3" y="574.8" width="1.6" height="1.6" fill="#00007d"/>
<path d="M431.2 523.1L425 522.5L421.2 520.6L418.8 517.5L419.4 513.1L415 511.2L410 510L408.8 508.1L405 508.1L402.5 510.6L398.8 512.5L395 514.4L390 513.8L390 511.9L386.2 513.8L382.5 513.1L377.5 515L373.8 516.9L373.8 521.2L376.2 526.2L372.5 526.9L370 523.1L367.5 521.9L365 523.8L361.2 523.1L358.8 520L356.2 518.1L352.5 518.8L353.8 515L355 511.2L351.9 508.8L350 505L350 501.2L345 500L341.2 501.2L338.1 501.9L339.4 498.8L338.1 495.6L340 491.2L343.8 488.1L347.5 485L348.8 480L348.8 475L347.5 470.6L345 468.8L342.5 465L339.4 462.5L336.9 464.4L336.2 468.1L332.5 466.9L328.8 465L323.8 463.8L318.8 465.6L313.8 468.8L308.8 470.6L305 474.4L301.2 476.2L295 476.5L290 476.2L300 476.2L295 476.5L290 476.9L289.4 472.5L286.2 469.4L283.8 466.2L278.8 466.9L273.8 465L268.8 464.4L266.2 466.2L263.8 471.2L261.9 473.1L260 470L260.6 466.2L256.2 465.6L251.2 466.9L246.2 468.1L241.2 465.6L236.2 466.9L232.5 463.8L227.5 463.1L224.4 460L220 458.1L216.2 455L213.8 455.6L211.9 453.1L207.5 450.6L201.2 446.9L197.5 445L194.4 445.6L193.1 448.8L190.6 446.9L186.2 444.4L181.2 442.5L177.5 440L173.8 440L171.2 437.5L170 433.8L168.1 430L168.1 426.9L170 425L173.1 426L175.2 424.4L175 420.6L172.5 417.5L170.6 413.8L171.2 410.6L174 409.8L170 408.5L167.2 406.2L165.6 401.9L163.1 399.4L157.5 398.1L151.9 396.2L148.1 394.4L146.2 391.2L143.8 388.8L138.8 386.2L133.1 385L138.1 383.1L137.5 378.8L136.2 373.1L132.5 371.9L127.5 371.2L126.2 368.1L125 365.6L126.9 363.1L127.5 360.6L131.2 358.1L135.6 355.6L141.9 354.4L145.6 356.2L150.6 355.6L153.1 351.9L156.2 350.6L161.2 350L167.5 346.9L175 343.8L182.5 341.2L184.4 338.8L183.8 335.6L186.9 333.1L189.4 330L186.2 326.2L185 320L183.8 317.5L181.2 316.2L182.5 314.4L190 313.1L197.5 311.9L201.9 312.5L204.4 313.1L201.9 308.8L205 302.5L208.1 296.2L210 295.4L215 296.9L221.2 298.1L227.5 297.5L232.5 295.6L231.9 291.2L231.2 288.1L233.8 285L238.8 283.8L241.9 281.9L245 278.5L251.9 278.5L253.1 281.9L253.1 282.5L257.5 285.6L262.5 288.1L268.8 288.8L273.8 291.2L276.9 296.2L280 300L280 304.4L277.5 308.1L277.5 311.2L280.6 313.1L287.5 314.4L295 314.8L302.5 315.6L308.8 318.1L315 321.2L318.8 322.5L321.2 326.2L323.8 331.2L327.5 335L335 334.8L342.5 335.6L347.5 336.5L355 336.9L363.8 335.2L370 335.6L376.2 337.5L380 340.6L387.5 342.5L393.8 344L398.8 343.8L401.2 345L403.8 345.2L410 342.5L417.5 340L426.2 338.1L433.8 337.8L440 337.5L446.2 336.2L451.2 333.8L455 330.6L458.8 328.1L465 326.2L465.6 324.4L462.5 321.9L461.9 318.8L463.8 315.6L468.1 314.4L473.8 316.2L480 316.2L485 314.4L490 311.2L496.2 310.6L502.5 308.1L505 305L508.8 303.1L513.8 301.9L517.5 300L525 299.4L531.2 299.4L535.6 300L537.5 298.1L535.6 294.4L531.2 290.6L526.2 288.1L521.2 287.5L517.5 289.4L515 290.6L511.2 289L507.5 289.8L502.5 290.6L498.8 289.8L498.1 287.5L501.2 282.5L504.4 277.5L507.5 272.5L508.5 271.9L512.5 273.1L517.5 274L522.5 271.5L526.2 269.8L528.8 270M660.6 284.4L671.2 284L668.8 286.9L668.1 291.2L665 293.1L663.8 297.5L661.9 302.5L658.1 308.1L655 312.5L652.5 314.8L647.5 313.8L643.8 312.5L640 314.4L636.2 316.2L636.9 321.2L637.5 326.2L637.5 331.2L635 335L631.9 337.5L627.5 333.8L625 335L622.5 338.8L617.5 341.2L611.2 343.8L610.6 346.9L605 346.2L598.8 343.8L598.1 344.4L595 346.9L592.5 350L587.5 352.5L581.2 355.6L577.5 358.1L575.6 360L576 362.5M553.1 241.6L560 241L566.9 240.6M587.5 242.5L590.6 243.8L593.8 246.2M596.9 258.8L601.9 265M620 275L625 276.2L628.8 280M640.6 292.8L651.2 291M562.5 495.6L561.2 505M555 521.9L548.8 529.4M442.5 571.2L445.6 575.6L446.5 580M537.8 546L533.8 553.8M529.4 572.5L529.4 580" fill="none" stroke="#000" stroke-width="3.4" stroke-linejoin="round" stroke-linecap="round"/>
</g>
<rect x="573.4" y="452.5" width="104.0" height="127.7" fill="#fff"/>
<clipPath id="ic"><rect x="573.4" y="452.5" width="104.0" height="127.7"/></clipPath>
<g clip-path="url(#ic)">
<path d="M573.4 452.5L604.4 452.5L603 455.5L601.6 460.3L597.5 463.8L593.4 461.7L587.9 459.6L583.8 461L578.2 461L573.4 457.6Z" fill="#ffe032"/><path d="M586.5 456.9L589.9 454.1L593.4 456.9L589.9 459.4Z" fill="#fff"/><path d="M596.1 452.5L603 452.5L599.6 455.5Z" fill="#fff"/><path d="M604.4 452.5L636 452.5L627.8 455.5L620.9 457.6L614 458.9L607.1 459.6L603.7 458.2L605.8 454.8Z" fill="#a6d2ff"/><path d="M608.5 452.5L615.4 452.5L614 455.5L610.6 456.2Z" fill="#fff"/><path d="M594.8 461.7L599.6 457.6L603.7 454.1" stroke="#b4b4b4" stroke-width="2.2" fill="none" stroke-linecap="round"/><path d="M620.2 456.2L622.9 455.2" stroke="#b4b4b4" stroke-width="2.5" fill="none" stroke-linecap="round"/><path d="M595.4 470.6L599.6 469.2" stroke="#b4b4b4" stroke-width="1.6" fill="none" stroke-linecap="round"/><path d="M583.8 461L587.9 459.6L593.4 461.7L597.5 463.8L601.6 460.3L607.1 459.6L614 458.9L620.9 457.6L627.8 455.5L636 453.4L641.5 452.5M594.8 463.1L594.1 467.9L596.8 470.6L598.9 467.9L597.5 463.8M590.6 472L597.5 471.3L600.9 473.4L600.9 476.8L598.2 479.6L593.4 481.6L588.6 480.2L586.5 476.8L587.9 473.4L590.6 472M659.4 453.4L660.8 456.2L662.1 457.6L664.9 455.5L666.9 458.2L668.3 456.2L669 453.9M618.8 498.1L621.6 496.1L625.7 496.1L626.4 498.1L623.6 499.8L620.2 500.2L618.8 498.1M620.9 498.4L622.9 497.4L624.3 498.1" stroke="#00007d" stroke-width="1.1" fill="none" stroke-linejoin="round"/>
<path d="M671.1 460.3L664.9 467.9M658 476.8L653.9 486.4M652.5 495.4L652.2 505.7M651.8 521.5L648.4 531.1M635.3 546.2L629.1 554.5M589.2 492.6L592 497.4L593.6 501.6M596.8 518.1L597.2 522.2L595.4 527M583.8 549L583.8 554.5L584.9 560L585.4 564.1M605.1 575.4L609.9 574.9L614.7 573.5M574.1 458.5L578.2 461L583.8 461.7" stroke="#000" stroke-width="3.2" fill="none" stroke-linecap="round" stroke-linejoin="round"/>
<path d="M632.4 463.6h1.7v1.7h-1.7zM637.2 465.9h1.7v1.7h-1.7zM613.7 473.9h1.2v1.2h-1.2zM618.6 475.5h1.2v1.2h-1.2zM636.8 493.7h1.2v1.2h-1.2zM643.1 500.7h1.7v1.7h-1.7zM628.8 508.8h1.2v1.2h-1.2zM588.7 533.6h1.2v1.2h-1.2zM589.4 463.9h1.2v1.2h-1.2zM569.1 484.2h1.7v1.7h-1.7zM606.1 489.5h1v1h-1zM603.2 493.1h1.2v1.2h-1.2zM608.8 496.7h1.2v1.2h-1.2zM602.9 492.2h1v1h-1zM605.1 493.3h1v1h-1zM611.5 489.1h1.2v1.2h-1.2zM609.4 493.6h1v1h-1zM608.8 491.7h1.2v1.2h-1.2zM605.7 489.4h1v1h-1zM608.7 493.3h1.2v1.2h-1.2zM603.6 493.4h1.2v1.2h-1.2zM606.6 493.3h1v1h-1zM608.5 493.7h1.4v1.4h-1.4zM609.9 492h1.2v1.2h-1.2zM607.5 496.8h1.2v1.2h-1.2zM605.7 495.6h1.2v1.2h-1.2zM619.6 526.4h1.4v1.4h-1.4zM627.3 533.6h1.2v1.2h-1.2zM624.5 522.5h1.7v1.7h-1.7zM622.9 534.1h1.2v1.2h-1.2zM628 528.6h1v1h-1zM626.3 531.1h1.2v1.2h-1.2zM622.1 527.2h1.4v1.4h-1.4zM624.6 529.2h1v1h-1zM628.1 529.5h1v1h-1zM619.2 532.9h1.7v1.7h-1.7zM621.7 528h1.2v1.2h-1.2zM619.1 529.2h1.2v1.2h-1.2zM624.8 529.8h1.2v1.2h-1.2zM626.3 523.7h1.2v1.2h-1.2zM622.6 536.6h1.4v1.4h-1.4zM619.4 528.7h1.7v1.7h-1.7zM621.5 523.7h1.4v1.4h-1.4zM627.1 526.1h1.4v1.4h-1.4zM622.7 525.5h1v1h-1zM620.6 525.4h1.2v1.2h-1.2zM620.7 526.3h1.2v1.2h-1.2zM622.7 527.4h1.7v1.7h-1.7zM630.9 526.7h1.7v1.7h-1.7zM643.2 530.3h1v1h-1zM635.8 534.9h1.7v1.7h-1.7zM633.4 530h1v1h-1zM634.8 529.5h1.2v1.2h-1.2zM629.6 530.4h1v1h-1zM629.1 533h1.7v1.7h-1.7zM628.7 531h1v1h-1zM634 532.7h1.2v1.2h-1.2zM637 529.8h1v1h-1zM634.9 530.6h1v1h-1zM630.7 535.2h1.2v1.2h-1.2zM635.5 532.6h1.7v1.7h-1.7zM634.3 525.9h1.7v1.7h-1.7zM642.9 531.6h1.2v1.2h-1.2zM637.6 526.8h1.2v1.2h-1.2zM641.3 526.9h1.2v1.2h-1.2zM637 533.7h1.2v1.2h-1.2zM638 531.2h1.2v1.2h-1.2zM641.4 532.8h1.2v1.2h-1.2zM619.5 544.3h1v1h-1zM623.7 539.8h1.7v1.7h-1.7zM632 543.6h1.2v1.2h-1.2zM631.9 542.4h1.2v1.2h-1.2zM617.9 543.9h1.2v1.2h-1.2zM619.3 545.7h1.7v1.7h-1.7zM630 544h1.2v1.2h-1.2zM627.1 549.9h1.2v1.2h-1.2zM624.1 539.9h1.2v1.2h-1.2zM628.2 543.9h1v1h-1zM628.1 539.8h1.2v1.2h-1.2zM616.5 545.4h1.4v1.4h-1.4zM629.2 539.1h1.7v1.7h-1.7zM622 545h1.2v1.2h-1.2zM628.2 538.8h1.2v1.2h-1.2zM623.3 549.4h1.2v1.2h-1.2zM624.4 547.9h1.2v1.2h-1.2zM620.5 543.2h1.2v1.2h-1.2zM614.2 542.3h1.7v1.7h-1.7zM606.3 548h1.7v1.7h-1.7zM608.1 547.3h1.2v1.2h-1.2zM609.6 545.6h1.2v1.2h-1.2zM600.5 544.6h1v1h-1zM606.7 540.3h1.7v1.7h-1.7zM607.1 542.6h1v1h-1zM599.1 544.7h1v1h-1zM612.7 546.2h1.4v1.4h-1.4zM607.4 538.8h1.2v1.2h-1.2zM605.6 543.4h1.4v1.4h-1.4zM605.5 539.6h1.7v1.7h-1.7zM602.3 545h1.2v1.2h-1.2zM611.6 536.8h1v1h-1zM593.3 546.3h1.2v1.2h-1.2zM593.6 545.9h1.2v1.2h-1.2zM596.5 548.7h1.2v1.2h-1.2zM597.8 547.6h1.2v1.2h-1.2zM597.8 546.5h1.4v1.4h-1.4zM591.4 547.7h1.2v1.2h-1.2zM625 537.8h1.7v1.7h-1.7zM628.6 537.9h1.2v1.2h-1.2zM627.5 541.3h1v1h-1zM627.8 538.4h1v1h-1zM628.3 539h1.2v1.2h-1.2zM630.1 534h1.2v1.2h-1.2zM633.8 536.3h1.2v1.2h-1.2zM634.3 542.6h1.2v1.2h-1.2zM628.3 538.9h1.7v1.7h-1.7zM631 541.1h1v1h-1zM626.9 542.1h1.2v1.2h-1.2zM629 534.2h1v1h-1zM613.6 560.6h1v1h-1zM613.2 555.8h1.2v1.2h-1.2zM616 557.7h1.2v1.2h-1.2zM616.7 559.1h1v1h-1zM612.4 556h1v1h-1zM613.5 558.3h1.2v1.2h-1.2zM609.7 558h1.2v1.2h-1.2zM609.5 560.6h1.2v1.2h-1.2zM607 575.4h1.7v1.7h-1.7zM607.2 575.3h1v1h-1zM607.6 571.9h1.4v1.4h-1.4zM607.1 574.4h1.7v1.7h-1.7zM606.6 567.3h1.2v1.2h-1.2zM606.7 574.1h1.2v1.2h-1.2zM607 568.8h1v1h-1zM607.5 574.5h1.4v1.4h-1.4z" fill="#00007d"/>
</g>
<rect x="573.4" y="452.5" width="104.0" height="127.7" fill="none" stroke="#000" stroke-width="0.8"/>
<g style="font-size:5.55px" stroke="#000" stroke-width="0.3"><text x="627.2" y="565.3">South China</text><text x="627.2" y="571.5">Sea Islands</text><text x="627.2" y="577.7">Scale 1:28 000 000</text></g>
<rect x="120" y="217.5" width="560" height="364.5" fill="none" stroke="#000" stroke-width="1.1"/>
<path d="M182.50 582v12.8M182.50 217.5v-12.8M271.25 582v12.8M271.25 217.5v-12.8M360.00 582v12.8M360.00 217.5v-12.8M448.75 582v12.8M448.75 217.5v-12.8M537.50 582v12.8M537.50 217.5v-12.8M626.25 582v12.8M626.25 217.5v-12.8M120 537.50h-12.8M680 537.50h12.8M120 448.75h-12.8M680 448.75h12.8M120 360.00h-12.8M680 360.00h12.8M120 271.25h-12.8M680 271.25h12.8" stroke="#000" stroke-width="1.5" fill="none"/>
<path d="M120 581.88h-6.4M680 581.88h6.4M120 493.12h-6.4M680 493.12h6.4M120 404.38h-6.4M680 404.38h6.4M120 315.62h-6.4M680 315.62h6.4M120 226.88h-6.4M680 226.88h6.4" stroke="#000" stroke-width="0.8" fill="none"/>
<text class="ax" x="182.50" y="617.9" text-anchor="middle">80E</text>
<text class="ax" x="271.25" y="617.9" text-anchor="middle">90E</text>
<text class="ax" x="360.00" y="617.9" text-anchor="middle">100E</text>
<text class="ax" x="448.75" y="617.9" text-anchor="middle">110E</text>
<text class="ax" x="537.50" y="617.9" text-anchor="middle">120E</text>
<text class="ax" x="626.25" y="617.9" text-anchor="middle">130E</text>
<text class="ax" x="96.2" y="543.40" text-anchor="end">20N</text>
<text class="ax" x="96.2" y="454.65" text-anchor="end">30N</text>
<text class="ax" x="96.2" y="365.90" text-anchor="end">40N</text>
<text class="ax" x="96.2" y="277.15" text-anchor="end">50N</text>
<text x="125.5" y="576.9" style="font-size:8.6px;font-weight:bold">Scale 1:14 000 000</text>
<text x="400" y="636.6" text-anchor="middle" style="font-size:11px" stroke="#000" stroke-width="0.2">Copyright © CEMC, CMA</text>
<g stroke="#222" stroke-width="0.9" stroke-linejoin="miter"><path d="M258.75 643.4L202.4 650.70L258.75 658.0Z" fill="#ff6a00"/><rect x="258.75" y="643.4" width="56.45" height="14.60" fill="#ffa500"/><rect x="315.20" y="643.4" width="56.45" height="14.60" fill="#ffe032"/><rect x="371.65" y="643.4" width="56.45" height="14.60" fill="#ffffff"/><rect x="428.10" y="643.4" width="56.45" height="14.60" fill="#a6d4ff"/><rect x="484.55" y="643.4" width="56.45" height="14.60" fill="#00bfff"/><path d="M541.00 643.4L597.6 650.70L541.00 658.0Z" fill="#4169e1"/></g>
<text class="cb" x="230.30" y="672.6" text-anchor="middle">60..100</text><text class="cb" x="286.95" y="672.6" text-anchor="middle">50..60</text><text class="cb" x="343.40" y="672.6" text-anchor="middle">40..50</text><text class="cb" x="399.85" y="672.6" text-anchor="middle">Normal</text><text class="cb" x="456.30" y="672.6" text-anchor="middle">40..50</text><text class="cb" x="512.75" y="672.6" text-anchor="middle">50..60</text><text class="cb" x="569.50" y="672.6" text-anchor="middle">60..100</text>
<text class="t" x="261.3" y="695.6" text-anchor="middle">Below</text><text class="t" x="577.5" y="695.6" text-anchor="middle">Above</text>
</svg></body></html>
